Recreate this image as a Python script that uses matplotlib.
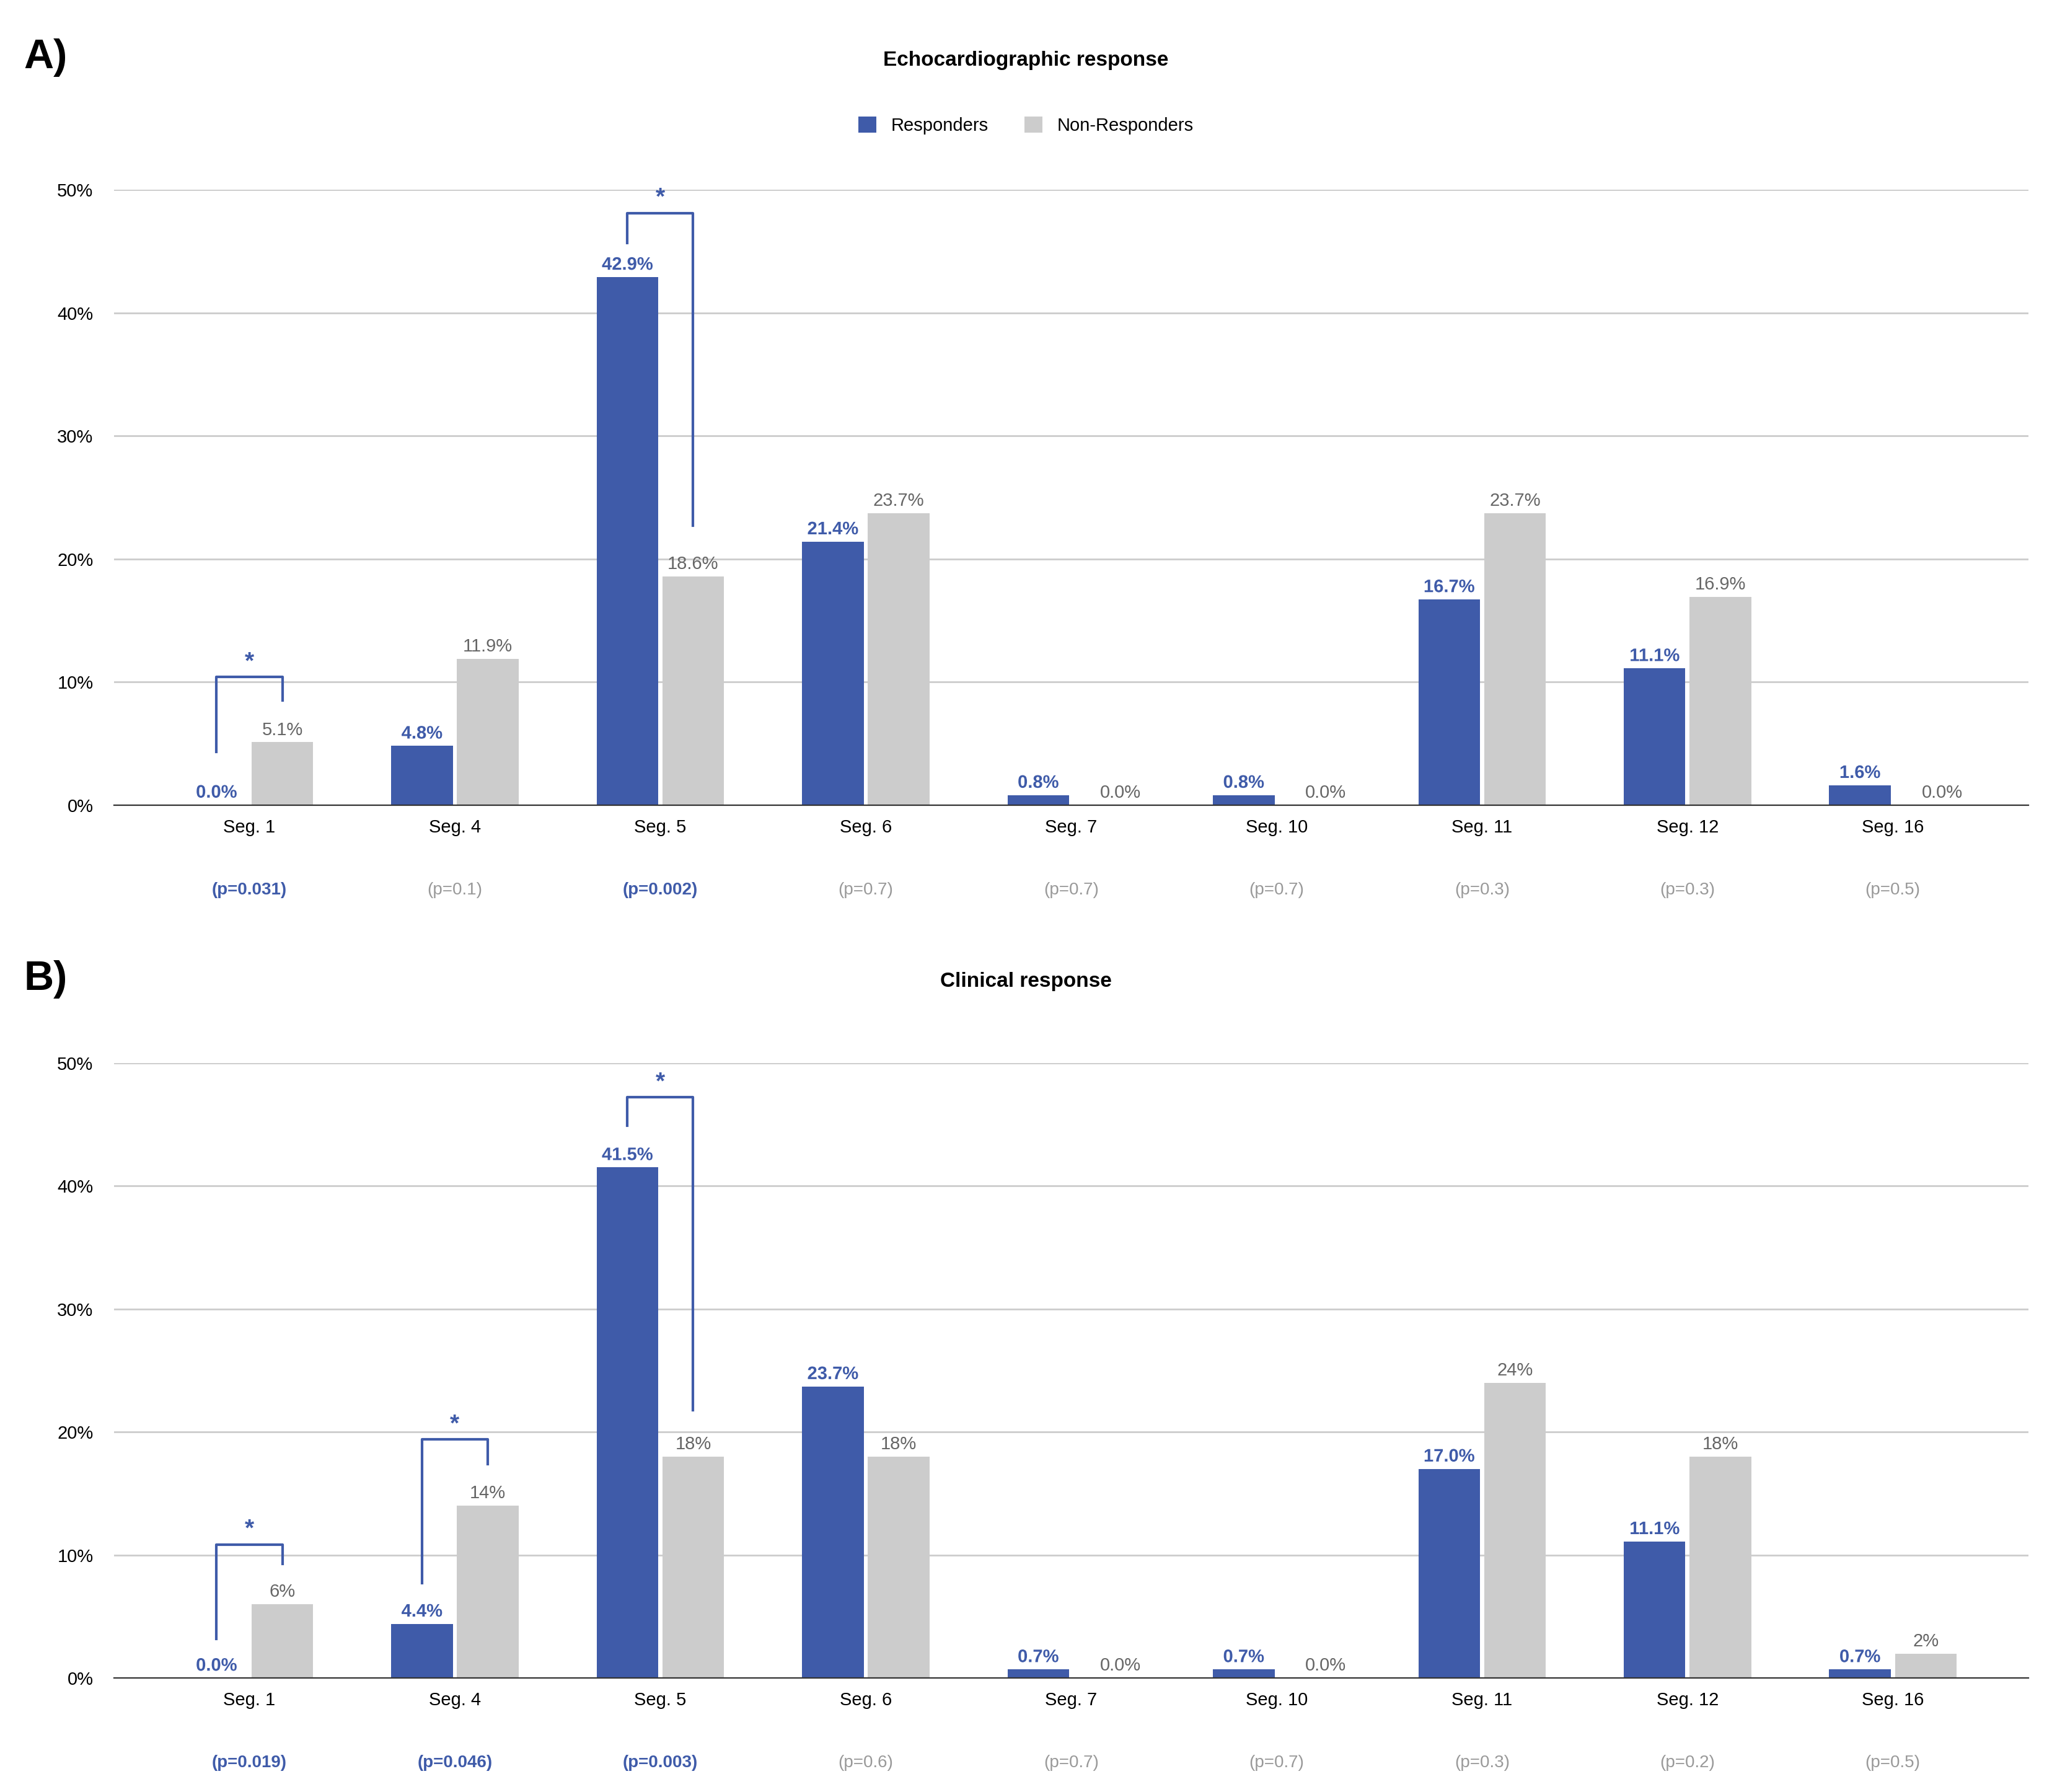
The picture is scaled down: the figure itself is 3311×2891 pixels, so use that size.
import matplotlib
matplotlib.use("Agg")
import matplotlib.pyplot as plt
import matplotlib.patheffects as pe
from matplotlib.transforms import blended_transform_factory as btf

segments = ["Seg. 1", "Seg. 4", "Seg. 5", "Seg. 6", "Seg. 7", "Seg. 10", "Seg. 11", "Seg. 12", "Seg. 16"]
echo_resp = [0.0, 4.8, 42.9, 21.4, 0.8, 0.8, 16.7, 11.1, 1.6]
echo_non = [5.1, 11.9, 18.6, 23.7, 0.0, 0.0, 23.7, 16.9, 0.0]
echo_non_lbl = ["5.1%", "11.9%", "18.6%", "23.7%", "0.0%", "0.0%", "23.7%", "16.9%", "0.0%"]
echo_p = ["(p=0.031)", "(p=0.1)", "(p=0.002)", "(p=0.7)", "(p=0.7)", "(p=0.7)", "(p=0.3)", "(p=0.3)", "(p=0.5)"]
echo_sig = [True, False, True, False, False, False, False, False, False]
clin_resp = [0.0, 4.4, 41.5, 23.7, 0.7, 0.7, 17.0, 11.1, 0.7]
clin_non = [6, 14, 18, 18, 0.0, 0.0, 24, 18, 2]
clin_non_lbl = ["6%", "14%", "18%", "18%", "0.0%", "0.0%", "24%", "18%", "2%"]
clin_p = ["(p=0.019)", "(p=0.046)", "(p=0.003)", "(p=0.6)", "(p=0.7)", "(p=0.7)", "(p=0.3)", "(p=0.2)", "(p=0.5)"]
clin_sig = [True, True, True, False, False, False, False, False, False]
# brackets: (group, top, left-bottom, right-bottom)
echo_br = [(0, 10.4, 4.3, 8.5), (2, 48.1, 45.7, 22.7)]
clin_br = [(0, 10.85, 3.2, 9.3), (1, 19.4, 7.7, 17.4), (2, 47.2, 44.9, 21.8)]

BLUE = "#3F5BA9"
GRAY = "#CCCCCC"
W, H = 1568, 1369
fig = plt.figure(figsize=(16.555, 14.455), dpi=200)
plt.rcParams['font.family'] = ['Liberation Sans', 'DejaVu Sans']

def panel(bottom_px, top_px, resp, non, nonlbl, pv, sig, br, title, title_y, letter, letter_y, legend):
    ax = fig.add_axes([87/W, 1-bottom_px/H, (1550-87)/W, (bottom_px-top_px)/H])
    x = list(range(len(segments)))
    off, bw = 0.16, 0.30
    ax.bar([i-off for i in x], resp, bw, color=BLUE, label="Responders", zorder=3)
    ax.bar([i+off for i in x], non, bw, color=GRAY, label="Non-Responders", zorder=3)
    ax.set_xlim(-0.66, 8.66)
    ax.set_ylim(0, 50)
    ax.set_yticks([0, 10, 20, 30, 40, 50])
    ax.set_yticklabels([f"{v}%" for v in [0, 10, 20, 30, 40, 50]], fontsize=10.5)
    ax.set_xticks(x)
    ax.set_xticklabels(segments, fontsize=10.5)
    ax.tick_params(length=0, pad=8)
    ax.tick_params(axis='y', pad=12)
    ax.grid(axis='y', color="#CCCCCC", lw=1, zorder=0)
    for s in ["top", "right", "left"]:
        ax.spines[s].set_visible(False)
    ax.spines["bottom"].set_color("#333333")
    ax.spines["bottom"].set_zorder(4)
    for i in x:
        ax.text(i-off, resp[i]+0.3, f"{resp[i]:.1f}%", ha="center", va="bottom", fontsize=10.5,
                fontweight="bold", color=BLUE, zorder=5,
                path_effects=[pe.withStroke(linewidth=3, foreground="white")])
        ax.text(i+off+(0.08 if non[i] == 0 else 0), non[i]+0.3, nonlbl[i], ha="center", va="bottom",
                fontsize=10.5, color="#666666", zorder=5)
        ax.text(i, -0.125, pv[i], transform=btf(ax.transData, ax.transAxes), ha="center", va="top",
                fontsize=10, color=BLUE if sig[i] else "#999999",
                fontweight="bold" if sig[i] else "normal")
    for g, top, lb, rb in br:
        ax.plot([g-off, g-off, g+off, g+off], [lb, top, top, rb], color=BLUE, lw=1.5, zorder=6)
        ax.text(g, top+0.3, "*", ha="center", va="bottom", fontsize=14, fontweight="bold", color=BLUE)
    fig.text(0.5, 1-title_y/H, title, ha="center", va="center", fontsize=12, fontweight="bold")
    fig.text(18/W, 1-letter_y/H, letter, ha="left", va="center", fontsize=24, fontweight="bold")
    if legend:
        fig.legend(*ax.get_legend_handles_labels(), loc="center", bbox_to_anchor=(0.5, 1-96/H),
                   ncol=2, frameon=False, fontsize=10.5, handlelength=1.0, handleheight=1.0,
                   columnspacing=2.0)
    return ax

panel(615, 145, echo_resp, echo_non, echo_non_lbl, echo_p, echo_sig, echo_br,
      "Echocardiographic response", 46, "A)", 44, True)
panel(1282, 812, clin_resp, clin_non, clin_non_lbl, clin_p, clin_sig, clin_br,
      "Clinical response", 750, "B)", 748, False)
fig.savefig("out.png", dpi=200)
